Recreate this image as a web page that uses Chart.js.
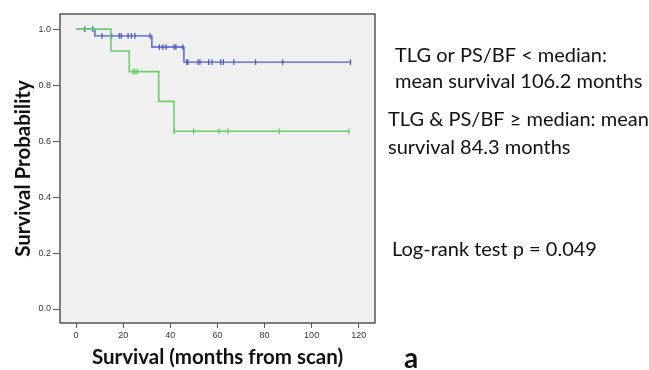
<!DOCTYPE html>
<html>
<head>
<meta charset="utf-8">
<script src="https://cdn.jsdelivr.net/npm/chart.js@4"></script>
<style>
  html, body { margin: 0; padding: 0; background: #fff; }
  #wrap { width: 649px; height: 370px; position: relative; }
</style>
</head>
<body>
<div id="wrap"><canvas id="km"></canvas></div>
<script>
// ------- Data -------
// low group: TLG or PS/BF < median (blue)
const lowTimes = [0, 8.0, 32.2, 45.8, 116.5];
const lowSurv = [1.0, 0.976, 0.936, 0.882, 0.882];
const lowCensorTimes = [3.7, 7.1, 11.0, 15.1, 18.4, 19.2, 22.1, 23.5, 25.0, 31.4,
  35.4, 36.8, 38.2, 41.6, 42.4, 45.3,
  47.0, 47.5, 51.8, 52.6, 56.3, 57.7, 61.4, 62.5, 67.0, 76.2, 87.7, 116.5];
const lowCensorSurv = [1.0, 1.0, 0.976, 0.976, 0.976, 0.976, 0.976, 0.976, 0.976, 0.976,
  0.936, 0.936, 0.936, 0.936, 0.936, 0.936,
  0.882, 0.882, 0.882, 0.882, 0.882, 0.882, 0.882, 0.882, 0.882, 0.882, 0.882, 0.882];

// high group: TLG & PS/BF >= median (green)
const highTimes = [0, 14.8, 22.6, 35.1, 41.6, 115.8];
const highSurv = [1.0, 0.922, 0.848, 0.742, 0.635, 0.635];
const highCensorTimes = [24.3, 25.0, 26.0, 41.6, 49.9, 60.7, 64.4, 86.3, 115.8];
const highCensorSurv = [0.848, 0.848, 0.848, 0.635, 0.635, 0.635, 0.635, 0.635, 0.635];

const xTicks = [0, 20, 40, 60, 80, 100, 120];
const yTicks = [0.0, 0.2, 0.4, 0.6, 0.8, 1.0];

const BLUE = '#4a5cc4';
const GREEN = '#6acd6a';

const toPoints = (xs, ys) => xs.map((x, i) => ({ x, y: ys[i] }));

// ------- Plugins -------
const plotBox = {
  id: 'plotBox',
  beforeDatasetsDraw(chart) {
    const { ctx, chartArea: a } = chart;
    ctx.save();
    ctx.fillStyle = '#f0f0f0';
    ctx.fillRect(a.left, a.top, a.right - a.left, a.bottom - a.top);
    ctx.restore();
  },
  afterDraw(chart) {
    const { ctx, chartArea: a } = chart;
    ctx.save();
    ctx.strokeStyle = '#555';
    ctx.lineWidth = 1.5;
    ctx.strokeRect(a.left, a.top, a.right - a.left, a.bottom - a.top);
    ctx.restore();
  }
};

const sideNotes = {
  id: 'sideNotes',
  afterDraw(chart) {
    const { ctx } = chart;
    ctx.save();
    ctx.fillStyle = '#111';
    ctx.textBaseline = 'middle';
    ctx.font = '20px Lato, "Open Sans", sans-serif';
    ctx.fillText('TLG or PS/BF < median:', 395, 56);
    ctx.fillText('mean survival 106.2 months', 395, 82);
    ctx.fillText('TLG & PS/BF \u2265 median: mean', 388, 120);
    ctx.fillText('survival 84.3 months', 388, 148);
    ctx.fillText('Log-rank test p = 0.049', 392, 250);
    ctx.font = 'bold 28px Lato, "Open Sans", sans-serif';
    ctx.fillText('a', 404, 359);
    ctx.restore();
  }
};

// ------- Chart -------
const tickFont = { family: '"Liberation Sans", Arial, sans-serif', size: 9 };
const titleFont = { family: 'Lato, "Open Sans", sans-serif', size: 20.5, weight: 'bold' };

new Chart(document.getElementById('km'), {
  type: 'scatter',
  data: {
    datasets: [
      {
        label: 'TLG & PS/BF ≥ median',
        data: toPoints(highTimes, highSurv),
        showLine: true, stepped: true,
        borderColor: GREEN, borderWidth: 1.6, pointRadius: 0
      },
      {
        label: 'TLG or PS/BF < median',
        data: toPoints(lowTimes, lowSurv),
        showLine: true, stepped: true,
        borderColor: BLUE, borderWidth: 1.4, pointRadius: 0
      },
      {
        label: 'censored high',
        data: toPoints(highCensorTimes, highCensorSurv),
        pointStyle: 'line', rotation: 90, radius: 2.8,
        borderColor: GREEN, borderWidth: 1.4
      },
      {
        label: 'censored low',
        data: toPoints(lowCensorTimes, lowCensorSurv),
        pointStyle: 'line', rotation: 90, radius: 2.8,
        borderColor: BLUE, borderWidth: 1.3
      }
    ]
  },
  options: {
    responsive: true,
    maintainAspectRatio: false,
    animation: false,
    layout: { padding: { top: 14, right: 274, left: 0, bottom: 0 } },
    plugins: {
      legend: { display: false },
      tooltip: { enabled: false }
    },
    scales: {
      x: {
        type: 'linear', min: -6.8, max: 126.9,
        afterBuildTicks: s => { s.ticks = xTicks.map(v => ({ value: v })); },
        afterFit: s => { s.height = 47; },
        grid: { drawOnChartArea: false, drawTicks: true, tickLength: 5, color: '#555' },
        border: { display: false },
        ticks: { font: tickFont, color: '#333', padding: 2, maxRotation: 0 },
        title: { display: true, text: 'Survival (months from scan)', font: titleFont, color: '#111', padding: { top: 0, bottom: 0 } }
      },
      y: {
        type: 'linear', min: -0.05, max: 1.054,
        afterBuildTicks: s => { s.ticks = yTicks.map(v => ({ value: v })); },
        afterFit: s => { s.width = 60; },
        grid: { drawOnChartArea: false, drawTicks: true, tickLength: 7, color: '#555' },
        border: { display: false },
        ticks: { font: tickFont, color: '#333', padding: 2, callback: v => v.toFixed(1) },
        title: { display: true, text: 'Survival Probability', font: titleFont, color: '#111', padding: { top: 11, bottom: 0 } }
      }
    }
  },
  plugins: [plotBox, sideNotes]
});
</script>
</body>
</html>
